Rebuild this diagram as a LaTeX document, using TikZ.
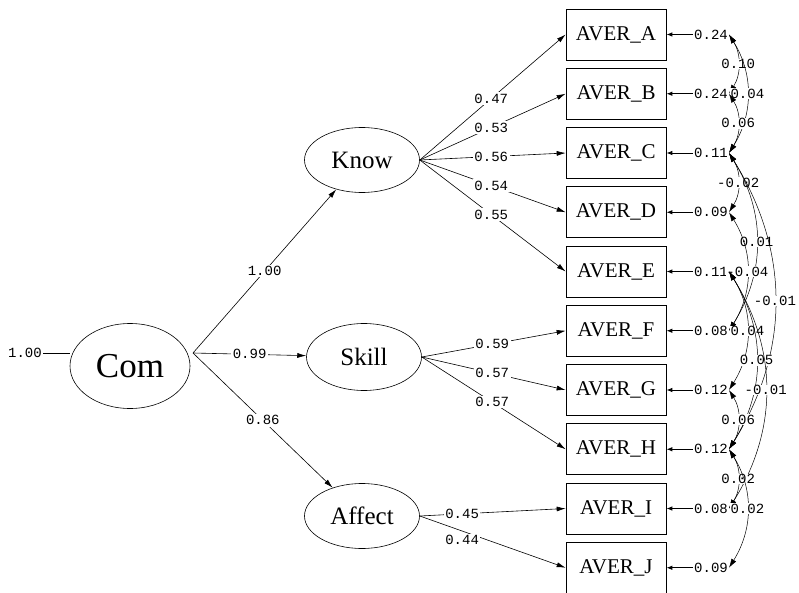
\documentclass[tikz,border=0pt]{standalone}
\usepackage{fontspec}
\setmainfont{Liberation Serif}
\newfontfamily\monofont{Liberation Mono}
\usetikzlibrary{shapes.geometric,arrows.meta}

\tikzset{
	lat/.style={ellipse,draw,line width=0.6pt,inner sep=0pt,minimum width=115pt,minimum height=65pt,font=\fontsize{25}{25}\selectfont},
	obs/.style={rectangle,draw,line width=0.7pt,inner sep=0pt,minimum width=100pt,minimum height=51pt,font=\fontsize{21}{21}\selectfont},
	coef/.style={fill=white,inner sep=1.5pt,font=\monofont\fontsize{14}{14}\selectfont},
	errv/.style={inner sep=1pt,font=\monofont\fontsize{14}{14}\selectfont},
	load/.style={-{Latex[length=9pt,width=5pt]},line width=0.6pt},
	errarr/.style={-{Latex[length=6pt,width=4.5pt]},line width=0.9pt},
	cov/.style={{Latex[length=9pt,width=5.5pt]}-{Latex[length=9pt,width=5.5pt]},line width=0.5pt}
}

\begin{document}
\begin{tikzpicture}[x=1pt,y=1pt]
			\useasboundingbox (0,0) rectangle (799,-593);
			\node[lat,minimum width=120pt,minimum height=85pt,font=\fontsize{35}{35}\selectfont] (com) at (130,-366) {Com};
			\node[lat] (know) at (362,-160) {Know};
			\node[lat,minimum height=67pt] (skill) at (364,-357) {Skill};
			\node[lat] (affect) at (362,-516) {Affect};
			\node[errv] (v0) at (25,-353) {1.00};
			\coordinate (comr) at (193,-353);
			\draw[line width=0.6pt] (v0.east) -- (v0.east -| com.west);
			\foreach \n/\v [count=\i from 0] in {A/0.24,B/0.24,C/0.11,D/0.09,E/0.11,F/0.08,G/0.12,H/0.12,I/0.08,J/0.09}
			{
				\node[obs] (a\n) at (616,{-34.5-59.25*\i}) {AVER\_\n};
				\node[errv] (e\n) at (711,{-34.5-59.25*\i}) {\v};
				\draw[errarr] (e\n) -- (a\n);
			}
			\draw[load] (comr) -- node[coef] {1.00} (know);
			\draw[load] (comr) -- node[coef] {0.99} (skill);
			\draw[load] (comr) -- node[coef] {0.86} (affect);
			\foreach \n/\v in {A/0.47,B/0.53,C/0.56,D/0.54,E/0.55}
				\draw[load] (know.east) -- node[coef,pos=0.49] {\v} (a\n.west);
			\foreach \n/\v in {F/0.59,G/0.57,H/0.57}
				\draw[load] (skill.east) -- node[coef,pos=0.49] {\v} (a\n.west);
			\draw[load] (affect.east) -- node[coef,pos=0.29] {0.45} (aI.west);
			\draw[load] (affect.east) -- node[coef,pos=0.29,yshift=-9pt] {0.44} (aJ.west);
			\foreach \p/\q/\v in {A/B/0.10,A/C/0.04,B/C/0.06,C/D/-0.02,C/F/0.01,D/F/-0.04,C/H/-0.01,E/G/0.04,E/H/0.05,E/I/-0.01,G/H/0.06,H/I/0.02,H/J/0.02}
				\draw[cov] (e\p.east) to[bend left=32] node[coef,inner sep=0.5pt] {\v} (e\q.east);
		\end{tikzpicture}
\end{document}
